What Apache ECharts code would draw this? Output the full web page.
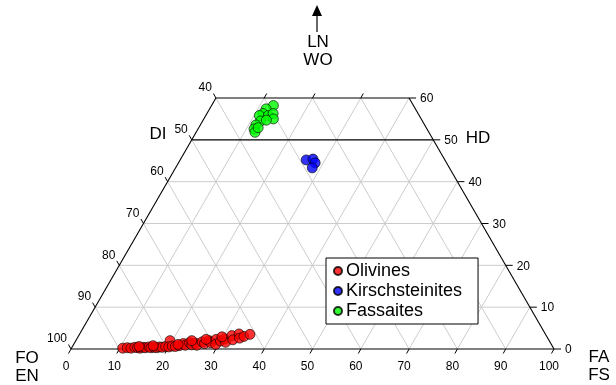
<!DOCTYPE html>
<html><head><meta charset="utf-8">
<script src="https://cdn.jsdelivr.net/npm/echarts@6/dist/echarts.min.js"></script>
<style>html,body{margin:0;padding:0;background:#fff}#c{width:616px;height:385px}</style>
</head><body><div id="c"></div>
<script>
// ---- data (ternary: FA %, WO %) ----
const bottomTicks = [0,10,20,30,40,50,60,70,80,90,100];
const leftTicks = [100,90,80,70,60,50,40];
const rightTicks = [0,10,20,30,40,50,60];
const topTicks = [10,20,30];

const olivinesFA = [10.6,11.5,12.3,13.0,13.6,14.2,14.8,15.3,15.9,16.4,17.0,17.6,18.1,18.7,19.3,19.5,20.0,20.6,21.3,22.0,22.6,23.2,23.8,24.5,25.1,25.6,26.3,27.0,27.6,28.2,28.9,29.4,30.0,30.6,31.2,31.7,32.4,33.0,33.6,34.3,35.3,29.8,26.8,24.0,21.6,16.6,13.8];
const olivinesWO = [0.2,0.3,0.2,0.4,0.3,0.2,0.4,0.3,0.5,0.3,0.4,0.3,0.5,0.4,0.6,2.0,0.5,0.7,0.6,0.8,1.3,0.9,1.5,1.0,1.4,0.9,1.7,1.3,2.0,1.5,2.3,1.1,1.9,2.4,1.6,3.2,2.2,3.6,2.6,3.0,3.5,2.9,2.3,2.0,1.1,0.8,0.6];
const kirschFA = [26.1,27.4,28.3,28.3];
const kirschWO = [45.2,45.4,44.5,43.3];
const fassFA = [12.8,11.7,11.6,11.1,12.95,13.7,14.4,12.0,11.5,11.6,12.2,12.3,13.1];
const fassWO = [58.2,57.4,56.3,55.8,55.8,56.3,55.0,54.5,53.55,52.6,51.8,52.9,54.7];

const S3 = Math.sqrt(3)/2;
function tern(fa, wo){ return [fa + wo/2, wo*S3]; }
function pts(fa, wo){ return fa.map((f,i)=>tern(f, wo[i])); }

// grid segments [x1,y1,x2,y2,kind]
const segs = [];
function seg(a,b,kind){ segs.push([a[0],a[1],b[0],b[1],kind]); }
for (let f=10; f<=90; f+=10){
  seg(tern(f,0), tern(f, Math.min(60,100-f)), 'g');            // constant FA
  const w = Math.min(60, f);
  seg(tern(f,0), tern(f-w, w), 'g');                           // constant FO
}
for (let w=10; w<=50; w+=10){
  seg(tern(0,w), tern(100-w,w), w===50?'k':'g');
}
seg(tern(0,0), tern(100,0), 'k');
seg(tern(0,0), tern(0,60), 'k');
seg(tern(100,0), tern(40,60), 'k');
seg(tern(0,60), tern(40,60), 'k');

// ticks & labels: [x,y,label,side]
const tickItems = [];
bottomTicks.forEach(v=>{ const p=tern(v,0); tickItems.push([p[0],p[1],String(v),'b']); });
leftTicks.forEach(v=>{ const p=tern(0,100-v); tickItems.push([p[0],p[1],String(v),'l']); });
rightTicks.forEach(v=>{ const p=tern(100-v,v); tickItems.push([p[0],p[1],String(v),'r']); });
topTicks.forEach(v=>{ const p=tern(v,60); tickItems.push([p[0],p[1],'','t']); });

const FONT = 'Arial, "Liberation Sans", sans-serif';
const chart = echarts.init(document.getElementById('c'), null, {renderer:'canvas'});

const ptStyle = c => ({color:c, borderColor:'#000', borderWidth:0.8});

chart.setOption({
  animation:false,
  grid:{left:71, top:98, width:483, height:251},
  xAxis:{type:'value', min:0, max:100, show:false},
  yAxis:{type:'value', min:0, max:60*S3, show:false},
  legend:{
    data:['Olivines','Kirschsteinites','Fassaites'],
    orient:'vertical', left:326, top:258,
    padding:[4,16,4,7], itemGap:2, itemWidth:8, itemHeight:8,
    backgroundColor:'#fff', borderColor:'#000', borderWidth:1, borderRadius:0,
    icon:'circle',
    textStyle:{fontSize:18, fontFamily:FONT, color:'#000', padding:[0,0,0,-1]}
  },
  series:[
    {
      type:'custom', name:'grid', silent:true, z:1,
      coordinateSystem:'cartesian2d',
      data:segs,
      encode:{x:[0,2], y:[1,3]},
      renderItem:(params, api)=>{
        const a = api.coord([api.value(0), api.value(1)]);
        const b = api.coord([api.value(2), api.value(3)]);
        const k = segs[params.dataIndex][4];
        return {type:'line', shape:{x1:a[0],y1:a[1],x2:b[0],y2:b[1]},
          style:{stroke: k==='k' ? '#000' : '#cccccc', lineWidth: k==='k'?1.1:1}};
      }
    },
    {
      type:'custom', name:'ticks', silent:true, z:1,
      coordinateSystem:'cartesian2d',
      data:tickItems.map(t=>[t[0],t[1]]),
      renderItem:(params, api)=>{
        const p = api.coord([api.value(0), api.value(1)]);
        const t = tickItems[params.dataIndex];
        const side = t[3];
        let tick, text;
        if (side==='b'){
          tick = {x1:p[0],y1:p[1],x2:p[0]-2.5,y2:p[1]+4.5};
          text = {x:p[0]-5, y:p[1]+18, align:'center'};
        } else if (side==='l'){
          tick = {x1:p[0],y1:p[1],x2:p[0]-2.5,y2:p[1]-4.5};
          text = {x:p[0]-4, y:p[1]-10, align:'right'};
        } else if (side==='r'){
          tick = {x1:p[0],y1:p[1],x2:p[0]+7,y2:p[1]};
          text = {x:p[0]+11, y:p[1]+1, align:'left'};
        } else {
          tick = {x1:p[0],y1:p[1],x2:p[0]+2.5,y2:p[1]-4.5};
          text = null;
        }
        const children = [{type:'line', shape:tick, style:{stroke:'#000', lineWidth:1}}];
        if (text && t[2]!==''){
          children.push({type:'text', style:{text:t[2], x:text.x, y:text.y, align:text.align,
            verticalAlign:'middle', font:'12px '+FONT, fill:'#000'}});
        }
        return {type:'group', children};
      }
    },
    {name:'Olivines', type:'scatter', z:5, symbolSize:10, data:pts(olivinesFA, olivinesWO), itemStyle:ptStyle('#ff0000')},
    {name:'Kirschsteinites', type:'scatter', z:5, symbolSize:10, data:pts(kirschFA, kirschWO), itemStyle:ptStyle('#0000ff')},
    {name:'Fassaites', type:'scatter', z:5, symbolSize:10, data:pts(fassFA, fassWO), itemStyle:ptStyle('#00ff00')}
  ],
  graphic:[
    {type:'line', shape:{x1:317,y1:32,x2:317,y2:14}, style:{stroke:'#000', lineWidth:1.2}},
    {type:'polygon', shape:{points:[[312,16],[322,16],[317,5]]}, style:{fill:'#000'}},
    {type:'text', style:{text:'LN', x:318, y:42, align:'center', verticalAlign:'middle', font:'17px '+FONT, fill:'#000'}},
    {type:'text', style:{text:'WO', x:318, y:60, align:'center', verticalAlign:'middle', font:'17px '+FONT, fill:'#000'}},
    {type:'text', style:{text:'FO', x:27, y:358, align:'center', verticalAlign:'middle', font:'17px '+FONT, fill:'#000'}},
    {type:'text', style:{text:'EN', x:27, y:376, align:'center', verticalAlign:'middle', font:'17px '+FONT, fill:'#000'}},
    {type:'text', style:{text:'FA', x:599, y:357, align:'center', verticalAlign:'middle', font:'17px '+FONT, fill:'#000'}},
    {type:'text', style:{text:'FS', x:599, y:375, align:'center', verticalAlign:'middle', font:'17px '+FONT, fill:'#000'}},
    {type:'text', style:{text:'DI', x:158, y:134, align:'center', verticalAlign:'middle', font:'17px '+FONT, fill:'#000'}},
    {type:'text', style:{text:'HD', x:478, y:138, align:'center', verticalAlign:'middle', font:'17px '+FONT, fill:'#000'}}
  ]
});
</script>
</body></html>
